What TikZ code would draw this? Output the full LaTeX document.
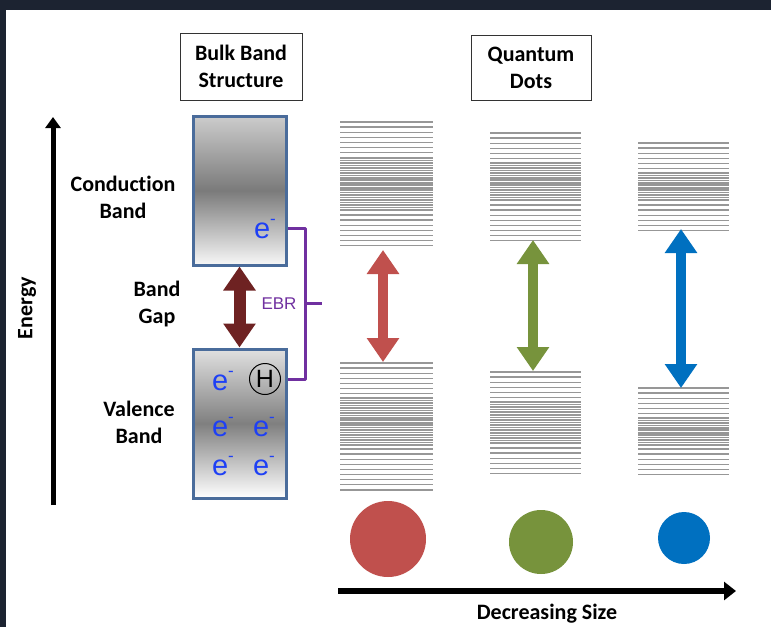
\documentclass[tikz,border=0pt]{standalone}
\usepackage{fontspec}
\setmainfont{Carlito}[Ligatures={NoCommon}]
\newfontfamily\arialf{Liberation Sans}
\usetikzlibrary{arrows.meta}
\definecolor{framec}{HTML}{1C2331}
\definecolor{bandblue}{HTML}{4A6C9B}
\definecolor{eblue}{HTML}{1E40F5}
\definecolor{ebrc}{HTML}{7030A0}
\definecolor{gaparrow}{HTML}{6E2222}
\definecolor{qred}{HTML}{C0504D}
\definecolor{qgreen}{HTML}{77933C}
\definecolor{qblue}{HTML}{0070C0}
\definecolor{levc}{HTML}{979797}
\newcommand\elec{e\raisebox{0.48em}{\fontsize{17}{17}\selectfont -}}
\newcommand\levstack[8]{%
  \foreach \i in {1,...,#4}{\draw[level] (#1,{#3+(\i-1)*5.1}) -- (#2,{#3+(\i-1)*5.1});}
  \pgfmathtruncatemacro\levnd{round((#6-#5)/2.5)}
  \foreach \i in {0,...,\levnd}{\draw[level, line width=1.6] (#1,{#5+\i*(#6-#5)/\levnd}) -- (#2,{#5+\i*(#6-#5)/\levnd});}
  \foreach \i in {1,...,#8}{\draw[level] (#1,{#7+(\i-1)*5.1}) -- (#2,{#7+(\i-1)*5.1});}
}
\begin{document}
\begin{tikzpicture}[x=1pt,y=-1pt,
  lbl/.style={font=\fontsize{22}{27}\selectfont\bfseries, align=center},
  titlebox/.style={draw=black!80, line width=1, lbl, inner sep=0},
  band/.style={draw=bandblue, line width=3, minimum width=93, minimum height=149, inner sep=0},
  elec/.style={font=\arialf\fontsize{29}{29}\selectfont, text=eblue, inner sep=0},
  level/.style={draw=levc, line width=1.4},
  dblarrow/.style={line width=10, {Triangle[width=31,length=24]}-{Triangle[width=31,length=24]}},
  dot/.style={circle, inner sep=0},
]
\useasboundingbox (0,0) rectangle (771,627);
\fill[white] (0,0) rectangle (771,627);
\fill[framec] (0,0) rectangle (771,10);
\fill[framec] (0,0) rectangle (6,627);

% title boxes
\node[titlebox, minimum width=122, minimum height=67] (bulk) at (241,66.5) {Bulk Band\\Structure};
\node[titlebox, minimum width=120, minimum height=65] (qd) at (531,67.5) {Quantum\\Dots};

% energy axis
\coordinate (ea) at (53,505);
\coordinate (eb) at (53,117);
\draw[line width=5, -{Triangle[width=15,length=11]}] (ea) -- (eb);
\node[lbl, rotate=90] (en) at (27,308) {Energy};

% left labels
\node[lbl] (cbl) at (123,197) {Conduction\\Band};
\node[lbl] (bgl) at (157,304) {Band\\Gap};
\node[lbl] (vbl) at (139,422) {Valence\\Band};

% bands
\node[band, top color=black!20, bottom color=black!3, middle color=black!52] (cb) at (239.5,190.5) {};
\node[band, top color=black!12, bottom color=white, middle color=black!50] (vb) at (239.5,423.5) {};

\node[elec] (e0) at (265,229) {\elec};
\node[elec] (e1) at (223,381) {\elec};
\node[draw, circle, line width=1, minimum size=31, inner sep=0, font=\arialf\fontsize{25}{25}\selectfont] (hole) at (265,379) {H};
\node[elec] (e2) at (223,427) {\elec};
\node[elec] (e3) at (264,427) {\elec};
\node[elec] (e4) at (223,466) {\elec};
\node[elec] (e5) at (264,466) {\elec};

% band gap arrow
\draw[gaparrow, line width=12, {Triangle[width=31,length=24]}-{Triangle[width=31,length=24]}] (cb.south) -- (vb.north);

% EBR bracket
\coordinate (b1) at (288,228);
\coordinate (b2) at (305,228);
\coordinate (b3) at (305,379);
\coordinate (b4) at (288,379);
\coordinate (bm) at (305,303);
\coordinate (bt) at (322,303);
\draw[ebrc, line width=3, line join=round] (b1) -- (b2) -- (b3) -- (b4);
\draw[ebrc, line width=3] (bm) -- (bt);
\node[font=\arialf\fontsize{17}{17}\selectfont, text=ebrc] (ebr) at (279,304) {EBR};

% quantum dot level stacks
\levstack{340}{433}{122}{7}{158}{210}{215}{7}
\levstack{340}{433}{363}{7}{398}{445}{449}{9}
\levstack{490}{581}{133}{6}{163}{200}{205}{8}
\levstack{490}{581}{372}{6}{402}{443}{448}{6}
\levstack{638}{729}{143}{6}{173}{200}{205}{6}
\levstack{638}{729}{388}{6}{418}{445}{449}{6}

% quantum dot arrows
\coordinate (r1) at (383,250);
\coordinate (r2) at (383,362);
\coordinate (g1) at (533,240);
\coordinate (g2) at (533,371);
\coordinate (u1) at (681,229);
\coordinate (u2) at (681,388);
\draw[qred, dblarrow] (r1) -- (r2);
\draw[qgreen, dblarrow] (g1) -- (g2);
\draw[qblue, dblarrow] (u1) -- (u2);

% dots
\node[dot, fill=qred, minimum size=76] (cr) at (388,539) {};
\node[dot, fill=qgreen, minimum size=64] (cg) at (541,542) {};
\node[dot, fill=qblue, minimum size=52] (cu) at (684,538) {};

% size arrow
\coordinate (s1) at (338,591);
\coordinate (s2) at (736,591);
\draw[line width=6, -{Triangle[width=18,length=12]}] (s1) -- (s2);
\node[lbl] (ds) at (547,614) {Decreasing Size};
\end{tikzpicture}
\end{document}
